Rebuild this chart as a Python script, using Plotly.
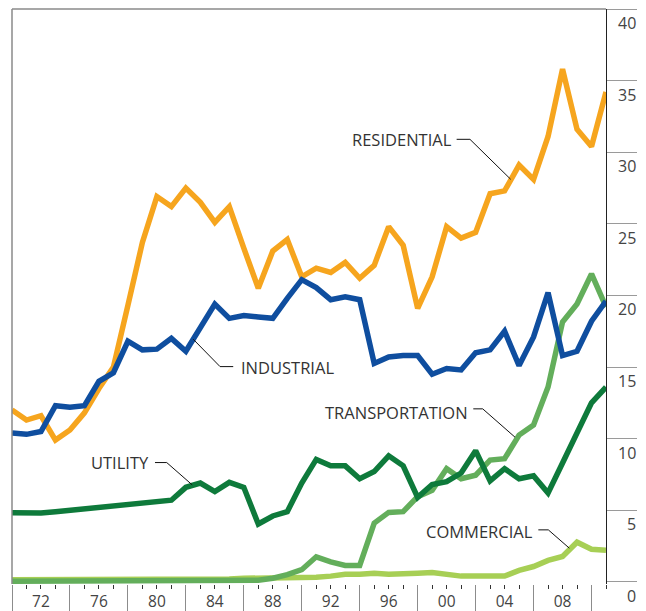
import plotly.graph_objects as go

years = list(range(1970, 2012))

residential = [12.0, 11.3, 11.6, 9.9, 10.6, 11.8, 13.5, 15.0, 19.3, 23.7,
               26.9, 26.2, 27.5, 26.5, 25.1, 26.2, 23.3, 20.5, 23.1, 23.9,
               21.3, 21.9, 21.6, 22.3, 21.2, 22.1, 24.8, 23.5, 19.1, 21.3,
               24.8, 24.0, 24.4, 27.1, 27.3, 29.1, 28.1, 31.1, 35.8, 31.6,
               30.4, 34.2]
industrial = [10.4, 10.3, 10.5, 12.3, 12.2, 12.3, 14.0, 14.6, 16.8, 16.2,
              16.25, 17.0, 16.1, 17.8, 19.4, 18.4, 18.6, 18.5, 18.4, 19.8,
              21.1, 20.55, 19.7, 19.9, 19.7, 15.25, 15.7, 15.8, 15.8, 14.5,
              14.9, 14.8, 16.0, 16.2, 17.5, 15.1, 17.1, 20.2, 15.8, 16.1,
              18.2, 19.6]
utility = [4.83, 4.8, 4.8, 4.9, 5.0, 5.07, 5.2, 5.3, 5.4, 5.5,
           5.55, 5.7, 6.6, 6.9, 6.3, 6.95, 6.6, 4.04, 4.6, 4.9,
           6.9, 8.55, 8.1, 8.1, 7.2, 7.7, 8.8, 8.1, 5.9, 6.8,
           7.0, 7.6, 9.15, 7.05, 7.9, 7.2, 7.4, 6.2, 8.3, 10.4,
           12.5, 13.6]
transportation = [0.05, 0.05, 0.05, 0.05, 0.05, 0.05, 0.05, 0.05, 0.05, 0.05,
                  0.05, 0.05, 0.05, 0.05, 0.05, 0.1, 0.12, 0.12, 0.25, 0.5,
                  0.85, 1.75, 1.4, 1.15, 1.15, 4.1, 4.85, 4.9, 5.95, 6.4,
                  7.9, 7.2, 7.45, 8.5, 8.6, 10.25, 10.95, 13.6, 18.15, 19.4,
                  21.5, 19.2]
commercial = [0.15, 0.15, 0.15, 0.15, 0.15, 0.15, 0.15, 0.15, 0.15, 0.15,
              0.2, 0.2, 0.2, 0.2, 0.2, 0.2, 0.25, 0.25, 0.25, 0.28,
              0.3, 0.32, 0.4, 0.53, 0.53, 0.6, 0.53, 0.53, 0.6, 0.65,
              0.5, 0.4, 0.4, 0.42, 0.4, 0.8, 1.07, 1.5, 1.77, 2.77,
              2.28, 2.2]

y_ticks = [0, 5, 10, 15, 20, 25, 30, 35, 40]
y_tick_labels = ["0", "5", "10", "15", "20", "25", "30", "35", "40"]
long_tick_years = list(range(1970, 2011, 4))
x_label_years = list(range(1972, 2009, 4))
x_tick_labels = ["72", "76", "80", "84", "88", "92", "96", "00", "04", "08"]

COL = {
    "RESIDENTIAL": "#F6A51E",
    "INDUSTRIAL": "#0F4E9F",
    "UTILITY": "#0E7A3B",
    "TRANSPORTATION": "#63AE5B",
    "COMMERCIAL": "#A7CF55",
}

series = [
    ("COMMERCIAL", commercial),
    ("TRANSPORTATION", transportation),
    ("RESIDENTIAL", residential),
    ("UTILITY", utility),
    ("INDUSTRIAL", industrial),
]

fig = go.Figure()
for name, vals in series:
    fig.add_trace(go.Scatter(x=years, y=vals, mode="lines", name=name,
                             line=dict(color=COL[name], width=5.5),
                             hoverinfo="skip"))
# empty carrier trace so the year-label axis (x2) is rendered
fig.add_trace(go.Scatter(x=x_label_years, y=[None] * len(x_label_years), xaxis="x2",
                         yaxis="y", mode="lines", showlegend=False, hoverinfo="skip"))

FONT = "Open Sans"
labels = [
    ("RESIDENTIAL", 2000.5, 30.9, "right", [(2000.69, 30.9), (2001.61, 30.9), (2004.42, 28.11)]),
    ("INDUSTRIAL", 1985.69, 15.0, "left", [(1985.27, 15.03), (1984.36, 15.03), (1982.51, 16.94)]),
    ("UTILITY", 1979.57, 8.33, "right", [(1979.87, 8.33), (1980.68, 8.33), (1982.44, 6.77)]),
    ("TRANSPORTATION", 2001.61, 11.82, "right", [(2001.84, 12.08), (2002.49, 12.08), (2004.72, 10.1)]),
    ("COMMERCIAL", 2006.1, 3.51, "right", [(2006.33, 3.63), (2007.02, 3.63), (2008.47, 2.35)]),
]

annotations = []
shapes = []
for text, lx, ly, xa, pts in labels:
    annotations.append(dict(x=lx, y=ly, xref="x", yref="y", text=text, showarrow=False,
                            xanchor=xa, yanchor="middle",
                            font=dict(family=FONT, size=16.5, color="#333333")))
    for (a, b), (c, d) in zip(pts[:-1], pts[1:]):
        shapes.append(dict(type="line", xref="x", yref="y", x0=a, y0=b, x1=c, y1=d,
                           line=dict(color="#111111", width=1)))

for v, t in zip(y_ticks, y_tick_labels):
    annotations.append(dict(x=1.054, y=v, xref="paper", yref="y", text=t, showarrow=False,
                            xanchor="right", yanchor="top", yshift=-1,
                            font=dict(family=FONT, size=16, color="#444444")))

shapes.append(dict(type="line", xref="paper", yref="paper", x0=0, x1=1, y0=1, y1=1,
                   line=dict(color="#8a8a8a", width=1.5)))
shapes.append(dict(type="line", xref="paper", yref="paper", x0=0, x1=0, y0=0, y1=1,
                   line=dict(color="#8a8a8a", width=1.5)))

# page body has an 8px margin: the figure is sized/offset to fit the 646x611 window
fig.update_layout(
    width=638, height=603,
    margin=dict(l=4, r=40, t=1, b=27, autoexpand=False),
    paper_bgcolor="white", plot_bgcolor="white",
    showlegend=False,
    xaxis=dict(range=[1970, 2011], tickmode="array", tickvals=long_tick_years,
               ticks="outside", ticklen=27, tickcolor="#8c8c8c", tickwidth=1,
               showticklabels=False, showgrid=False, zeroline=False, showline=False,
               automargin=False,
               minor=dict(tickmode="array", tickvals=years, ticks="outside", ticklen=4,
                          tickcolor="#333333", tickwidth=1, showgrid=False)),
    xaxis2=dict(range=[1970, 2011], overlaying="x", anchor="y", side="bottom",
                tickmode="array", tickvals=x_label_years, ticktext=x_tick_labels,
                ticks="outside", ticklen=3, tickcolor="rgba(0,0,0,0)",
                tickfont=dict(family=FONT, size=15.5, color="#444444"),
                showgrid=False, zeroline=False, showline=False, automargin=False),
    yaxis=dict(range=[-0.15, 40], side="right", tickmode="array", tickvals=y_ticks,
               ticks="outside", ticklen=30, tickcolor="#9a9a9a", tickwidth=1,
               showticklabels=False, showgrid=False, zeroline=False, automargin=False,
               showline=True, linecolor="#222222", linewidth=1),
    annotations=annotations,
    shapes=shapes,
)

fig.write_html("out.html")
